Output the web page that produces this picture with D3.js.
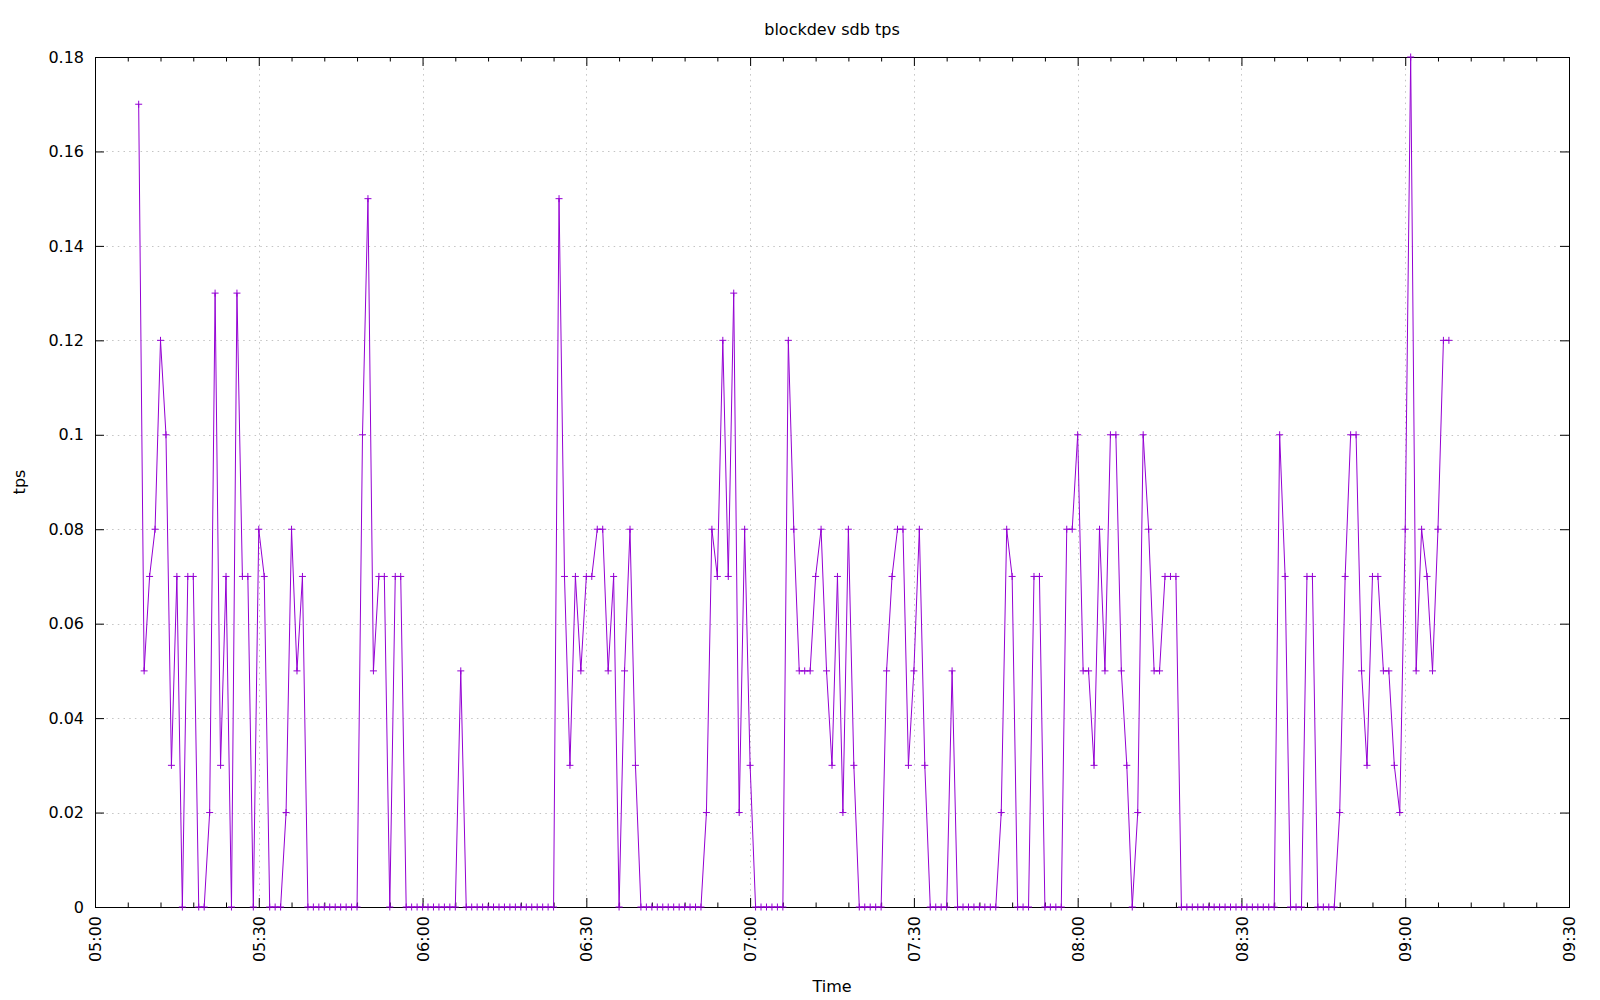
<!DOCTYPE html>
<html>
<head>
<meta charset="utf-8">
<script src="https://cdn.jsdelivr.net/npm/d3@7"></script>
<style>
  html, body { margin: 0; padding: 0; background: #fff; }
  svg { display: block; }
  text { font-family: "DejaVu Sans", sans-serif; fill: #000; }
</style>
</head>
<body>
<svg id="chart" width="1600" height="1000"></svg>
<script>
// ---- Data ----
const chartTitle = "blockdev sdb tps";
const xLabel = "Time";
const yLabel = "tps";

const times = [
  "05:08","05:09","05:10","05:11","05:12","05:13","05:14","05:15","05:16","05:17",
  "05:18","05:19","05:20","05:21","05:22","05:23","05:24","05:25","05:26","05:27",
  "05:28","05:29","05:30","05:31","05:32","05:33","05:34","05:35","05:36","05:37",
  "05:38","05:39","05:40","05:41","05:42","05:43","05:44","05:45","05:46","05:47",
  "05:48","05:49","05:50","05:51","05:52","05:53","05:54","05:55","05:56","05:57",
  "05:58","05:59","06:00","06:01","06:02","06:03","06:04","06:05","06:06","06:07",
  "06:08","06:09","06:10","06:11","06:12","06:13","06:14","06:15","06:16","06:17",
  "06:18","06:19","06:20","06:21","06:22","06:23","06:24","06:25","06:26","06:27",
  "06:28","06:29","06:30","06:31","06:32","06:33","06:34","06:35","06:36","06:37",
  "06:38","06:39","06:40","06:41","06:42","06:43","06:44","06:45","06:46","06:47",
  "06:48","06:49","06:50","06:51","06:52","06:53","06:54","06:55","06:56","06:57",
  "06:58","06:59","07:00","07:01","07:02","07:03","07:04","07:05","07:06","07:07",
  "07:08","07:09","07:10","07:11","07:12","07:13","07:14","07:15","07:16","07:17",
  "07:18","07:19","07:20","07:21","07:22","07:23","07:24","07:25","07:26","07:27",
  "07:28","07:29","07:30","07:31","07:32","07:33","07:34","07:35","07:36","07:37",
  "07:38","07:39","07:40","07:41","07:42","07:43","07:44","07:45","07:46","07:47",
  "07:48","07:49","07:50","07:51","07:52","07:53","07:54","07:55","07:56","07:57",
  "07:58","07:59","08:00","08:01","08:02","08:03","08:04","08:05","08:06","08:07",
  "08:08","08:09","08:10","08:11","08:12","08:13","08:14","08:15","08:16","08:17",
  "08:18","08:19","08:20","08:21","08:22","08:23","08:24","08:25","08:26","08:27",
  "08:28","08:29","08:30","08:31","08:32","08:33","08:34","08:35","08:36","08:37",
  "08:38","08:39","08:40","08:41","08:42","08:43","08:44","08:45","08:46","08:47",
  "08:48","08:49","08:50","08:51","08:52","08:53","08:54","08:55","08:56","08:57",
  "08:58","08:59","09:00","09:01","09:02","09:03","09:04","09:05","09:06","09:07",
  "09:08"
];

const tps = [
  0.17,0.05,0.07,0.08,0.12,0.10,0.03,0.07,0,0.07,
  0.07,0,0,0.02,0.13,0.03,0.07,0,0.13,0.07,
  0.07,0,0.08,0.07,0,0,0,0.02,0.08,0.05,
  0.07,0,0,0,0,0,0,0,0,0,
  0,0.10,0.15,0.05,0.07,0.07,0,0.07,0.07,0,
  0,0,0,0,0,0,0,0,0,0.05,
  0,0,0,0,0,0,0,0,0,0,
  0,0,0,0,0,0,0,0.15,0.07,0.03,
  0.07,0.05,0.07,0.07,0.08,0.08,0.05,0.07,0,0.05,
  0.08,0.03,0,0,0,0,0,0,0,0,
  0,0,0,0,0.02,0.08,0.07,0.12,0.07,0.13,
  0.02,0.08,0.03,0,0,0,0,0,0,0.12,
  0.08,0.05,0.05,0.05,0.07,0.08,0.05,0.03,0.07,0.02,
  0.08,0.03,0,0,0,0,0,0.05,0.07,0.08,
  0.08,0.03,0.05,0.08,0.03,0,0,0,0,0.05,
  0,0,0,0,0,0,0,0,0.02,0.08,
  0.07,0,0,0,0.07,0.07,0,0,0,0,
  0.08,0.08,0.10,0.05,0.05,0.03,0.08,0.05,0.10,0.10,
  0.05,0.03,0,0.02,0.10,0.08,0.05,0.05,0.07,0.07,
  0.07,0,0,0,0,0,0,0,0,0,
  0,0,0,0,0,0,0,0,0,0.10,
  0.07,0,0,0,0.07,0.07,0,0,0,0,
  0.02,0.07,0.10,0.10,0.05,0.03,0.07,0.07,0.05,0.05,
  0.03,0.02,0.08,0.18,0.05,0.08,0.07,0.05,0.08,0.12,
  0.12
];

const xTickLabels = ["05:00","05:30","06:00","06:30","07:00","07:30","08:00","08:30","09:00","09:30"];
const yTickValues = [0, 0.02, 0.04, 0.06, 0.08, 0.1, 0.12, 0.14, 0.16, 0.18];

// ---- Layout ----
const svg = d3.select("#chart");
const L = 95, R = 1569, T = 57, B = 907;
const parse = d3.timeParse("%H:%M");
const data = times.map((t, i) => ({ t: parse(t), v: tps[i] }));

const x = d3.scaleTime()
  .domain([parse(xTickLabels[0]), parse(xTickLabels[xTickLabels.length - 1])])
  .range([L, R]);
const y = d3.scaleLinear().domain([0, 0.18]).range([B, T]);

const xMajor = xTickLabels.map(parse);
const xMinor = x.ticks(d3.timeMinute.every(6)).filter(d => d.getMinutes() % 30 !== 0);

// Grid (dotted)
const grid = svg.append("g").attr("stroke", "#c4c4c4").attr("stroke-width", 1)
  .attr("stroke-dasharray", "1.5,4.2").attr("fill", "none");
grid.selectAll("line.gx").data(xMajor.slice(1, -1)).join("line")
  .attr("x1", d => Math.round(x(d)) + 0.5).attr("x2", d => Math.round(x(d)) + 0.5)
  .attr("y1", T).attr("y2", B);
grid.selectAll("line.gy").data(yTickValues.slice(1, -1)).join("line")
  .attr("y1", d => Math.round(y(d)) + 0.5).attr("y2", d => Math.round(y(d)) + 0.5)
  .attr("x1", L).attr("x2", R);

// Axes with inward ticks
const fmtTime = d3.timeFormat("%H:%M");
const fmtY = d => d === 0 ? "0" : String(+d.toFixed(2));

const gxB = svg.append("g").attr("transform", `translate(0,${B})`)
  .call(d3.axisBottom(x).tickValues(xMajor).tickSizeInner(-9).tickSizeOuter(0).tickFormat(fmtTime));
gxB.selectAll("text")
  .attr("transform", `translate(0,9) rotate(-90)`)
  .attr("x", 0).attr("y", 0).attr("dy", "0.35em")
  .attr("text-anchor", "end");
const gxBm = svg.append("g").attr("transform", `translate(0,${B})`)
  .call(d3.axisBottom(x).tickValues(xMinor).tickSizeInner(-4.5).tickSizeOuter(0).tickFormat(""));
const gxT = svg.append("g").attr("transform", `translate(0,${T})`)
  .call(d3.axisTop(x).tickValues(xMajor).tickSizeInner(-9).tickSizeOuter(0).tickFormat(""));
const gxTm = svg.append("g").attr("transform", `translate(0,${T})`)
  .call(d3.axisTop(x).tickValues(xMinor).tickSizeInner(-4.5).tickSizeOuter(0).tickFormat(""));
const gyL = svg.append("g").attr("transform", `translate(${L},0)`)
  .call(d3.axisLeft(y).tickValues(yTickValues).tickSizeInner(-9).tickSizeOuter(0).tickFormat(fmtY));
gyL.selectAll("text").attr("x", -11);
const gyR = svg.append("g").attr("transform", `translate(${R},0)`)
  .call(d3.axisRight(y).tickValues(yTickValues).tickSizeInner(-9).tickSizeOuter(0).tickFormat(""));

[gxB, gxBm, gxT, gxTm, gyL, gyR].forEach(g => {
  g.select(".domain").remove();
  g.selectAll("line").attr("stroke", "#000").attr("stroke-width", 1);
  g.selectAll("text").attr("font-family", "DejaVu Sans, sans-serif").attr("font-size", 16).attr("fill", "#000");
});

// Border
svg.append("rect").attr("x", L + 0.5).attr("y", T + 0.5)
  .attr("width", R - L).attr("height", B - T)
  .attr("fill", "none").attr("stroke", "#000").attr("stroke-width", 1);

// Line
const color = "#9400d3";
svg.append("path").datum(data)
  .attr("fill", "none").attr("stroke", color).attr("stroke-width", 1)
  .attr("d", d3.line().x(d => x(d.t)).y(d => y(d.v)));

// Point markers "+"
const s = 3.5;
svg.append("g").attr("stroke", color).attr("stroke-width", 1)
  .selectAll("path").data(data).join("path")
  .attr("d", d => {
    const px = x(d.t), py = y(d.v);
    return `M${px - s},${py}H${px + s}M${px},${py - s}V${py + s}`;
  });

// Titles
svg.append("text").attr("x", (L + R) / 2).attr("y", 35).attr("text-anchor", "middle")
  .attr("font-size", 16).text(chartTitle);
svg.append("text").attr("x", (L + R) / 2).attr("y", 992).attr("text-anchor", "middle")
  .attr("font-size", 16).text(xLabel);
svg.append("text").attr("transform", `translate(19,${(T + B) / 2}) rotate(-90)`)
  .attr("dy", "0.35em").attr("text-anchor", "middle")
  .attr("font-size", 16).text(yLabel);
</script>
</body>
</html>
